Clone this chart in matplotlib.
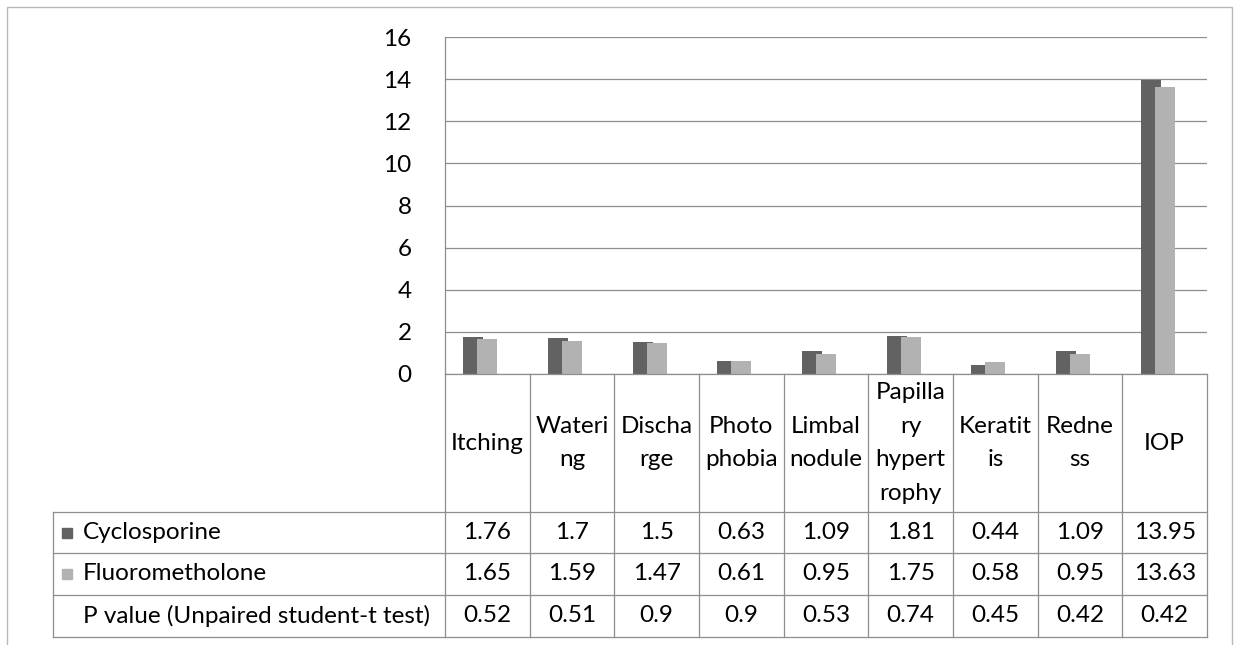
import numpy as np
import matplotlib
matplotlib.use('Agg')
import matplotlib.pyplot as plt
from matplotlib.patches import Rectangle

# data
categories = ['Itching', 'Wateri\nng', 'Discha\nrge', 'Photo\nphobia', 'Limbal\nnodule',
              'Papilla\nry\nhypert\nrophy', 'Keratit\nis', 'Redne\nss', 'IOP']
cyclosporine = [1.76, 1.7, 1.5, 0.63, 1.09, 1.81, 0.44, 1.09, 13.95]
fluorometholone = [1.65, 1.59, 1.47, 0.61, 0.95, 1.75, 0.58, 0.95, 13.63]
p_values = [0.52, 0.51, 0.9, 0.9, 0.53, 0.74, 0.45, 0.42, 0.42]
series_names = ['Cyclosporine', 'Fluorometholone', 'P value (Unpaired student-t test)']
yticks = [0, 2, 4, 6, 8, 10, 12, 14, 16]

dark = '#626262'
light = '#b2b2b2'
grid_c = '#8e8e8e'
FONT = 'Lato'
FS = 17.5

W, H = 1239, 645
fig = plt.figure(figsize=(W / 100, H / 100), dpi=100)
plt.rcParams['font.family'] = [FONT, 'DejaVu Sans']


def px_axes(l, t, r, b):
    return fig.add_axes([l / W, 1 - b / H, (r - l) / W, (b - t) / H])


# outer frame
fig.patches.append(Rectangle((7 / W, -0.2), (1232 - 7) / W, 1 - 7 / H + 0.2,
                             transform=fig.transFigure, fill=False,
                             edgecolor='#b8b8b8', lw=1.0, clip_on=False))

# bar plot
ax = px_axes(445, 37, 1207, 374)
x = np.arange(len(categories))
bw = 0.235
ax.bar(x - 0.165, cyclosporine, bw, color=dark, zorder=3)
ax.bar(x, fluorometholone, bw, color=light, zorder=3)
ax.set_xlim(-0.5, len(categories) - 0.5)
ax.set_ylim(0, 16)
ax.set_yticks(yticks)
ax.set_yticklabels([str(v) for v in yticks], fontsize=FS)
ax.tick_params(axis='y', length=0, pad=24)
ax.set_xticks([])
ax.grid(axis='y', color=grid_c, lw=0.9, zorder=0)
for s in ['top', 'right', 'bottom']:
    ax.spines[s].set_visible(False)
ax.spines['left'].set_color(grid_c)
ax.spines['left'].set_linewidth(0.9)

# data table below, sharing the category scale
cat_w = (1207 - 445) / len(categories)
tab = px_axes(53, 374, 1207, 637)
tab.set_xlim(-0.5 - (445 - 53) / cat_w, len(categories) - 0.5)
tab.set_ylim(263, 0)
tab.axis('off')
rows = [0, 138, 179, 221, 263]
left_x = -0.5 - (445 - 53) / cat_w
right_x = len(categories) - 0.5
lkw = dict(color=grid_c, lw=0.9, clip_on=False)
tab.plot([-0.5, right_x], [rows[0], rows[0]], **lkw)
for r in rows[1:]:
    tab.plot([left_x, right_x], [r, r], **lkw)
for i in range(len(categories) + 1):
    tab.plot([i - 0.5, i - 0.5], [rows[0], rows[-1]], **lkw)
tab.plot([left_x, left_x], [rows[1], rows[-1]], **lkw)

for i, c in enumerate(categories):
    tab.text(i, rows[1] / 2, c, ha='center', va='center', fontsize=FS, linespacing=1.75)

series_vals = [cyclosporine, fluorometholone, p_values]
marker_cols = [dark, light, None]
txt_x = left_x + (83 - 53) / cat_w
for k, (name, vals, mc) in enumerate(zip(series_names, series_vals, marker_cols)):
    yc = (rows[k + 1] + rows[k + 2]) / 2
    if mc is not None:
        tab.add_patch(Rectangle((left_x + (62 - 53) / cat_w, yc - 5), 10 / cat_w, 10,
                                color=mc, clip_on=False))
    tab.text(txt_x, yc, name, ha='left', va='center', fontsize=FS)
    for i, v in enumerate(vals):
        tab.text(i, yc, f'{v:g}', ha='center', va='center', fontsize=FS)

fig.savefig('out.png', dpi=100)
